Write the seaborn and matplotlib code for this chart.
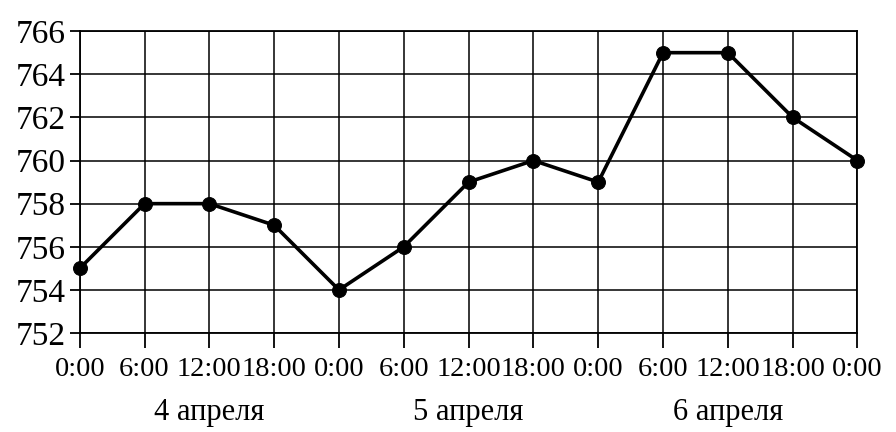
import matplotlib
matplotlib.use("Agg")
import matplotlib.pyplot as plt
import seaborn as sns
import pandas as pd

# data: pressure readings every 6 hours, 4-6 April
hours = [0, 6, 12, 18, 24, 30, 36, 42, 48, 54, 60, 66, 72]
pressure = [755, 758, 758, 757, 754, 756, 759, 760, 759, 765, 765, 762, 760]
tick_labels = ["0:00", "6:00", "12:00", "18:00"] * 3 + ["0:00"]
y_ticks = [752, 754, 756, 758, 760, 762, 764, 766]
days = ["4 апреля", "5 апреля", "6 апреля"]
day_centers = [12, 36, 60]

sns.set_style("white")
plt.rcParams["font.family"] = ["Liberation Serif", "DejaVu Serif"]
plt.rcParams["text.color"] = "black"
plt.rcParams["xtick.color"] = "black"
plt.rcParams["ytick.color"] = "black"

fig = plt.figure(figsize=(8.96, 4.32), dpi=100)
ax = fig.add_axes([0.089, 0.229, 0.868, 0.699])

df = pd.DataFrame({"hour": hours, "pressure": pressure})
sns.lineplot(data=df, x="hour", y="pressure", ax=ax, color="black",
             linewidth=2.6, marker="o", markersize=10, markeredgecolor="black",
             zorder=5, clip_on=False)

ax.set_xlim(0, 72)
ax.set_ylim(752, 766)
ax.set_xticks(hours)
ax.set_xticklabels(tick_labels, fontsize=20.5)
ax.set_yticks(y_ticks)
ax.set_yticklabels([str(v) for v in y_ticks], fontsize=24)
ax.grid(True, color="black", linewidth=1.1)
ax.set_xlabel("")
ax.set_ylabel("")
for s in ax.spines.values():
    s.set_color("black")
    s.set_linewidth(1.3)
ax.tick_params(axis="x", bottom=True, direction="out", length=11, width=1.3,
               colors="black", pad=6)
ax.tick_params(axis="y", left=True, direction="out", length=7, width=1.3,
               colors="black", pad=3)

for d, c in zip(days, day_centers):
    ax.text(c, -0.215, d, transform=ax.get_xaxis_transform(), ha="center",
            va="top", fontsize=22, color="black")

fig.savefig("out.png", dpi=100, facecolor="white")
